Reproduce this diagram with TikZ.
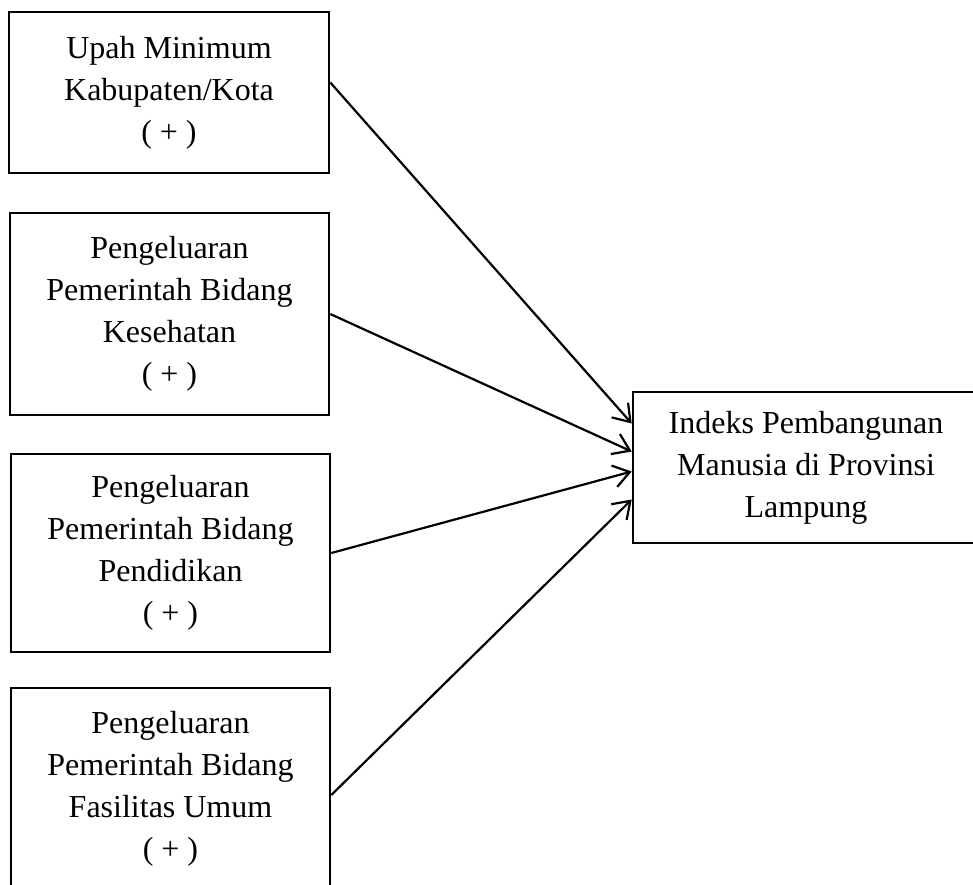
\documentclass[tikz,border=0pt]{standalone}
\usepackage{fontspec}
\setmainfont{Liberation Serif}
\usetikzlibrary{arrows.meta}

\begin{document}
\begin{tikzpicture}[x=0.5pt,y=-0.5pt,
  box/.style={draw,line width=1.3pt,align=center,inner sep=0pt,font=\fontsize{16}{21}\selectfont},
  link/.style={line width=1.1pt,-{Straight Barb[length=8pt,width=11pt,line width=1.1pt]}}]

  \useasboundingbox (0,0) rectangle (973,884);
  \node[box,minimum width=160pt,minimum height=80.5pt] (ump) at (169,92.5) {Upah Minimum\\Kabupaten/Kota\\( + )};
  \node[box,minimum width=159.5pt,minimum height=101pt] (kes) at (169.5,314) {Pengeluaran\\Pemerintah Bidang\\Kesehatan\\( + )};
  \node[box,minimum width=159.5pt,minimum height=99pt] (pend) at (170.5,553) {Pengeluaran\\Pemerintah Bidang\\Pendidikan\\( + )};
  \node[box,minimum width=159.5pt,minimum height=101pt] (fas) at (170.5,789) {Pengeluaran\\Pemerintah Bidang\\Fasilitas Umum\\( + )};
  \node[box,minimum width=173pt,minimum height=75.5pt] (ipm) at (806,467.5) {Indeks Pembangunan\\Manusia di Provinsi\\Lampung};

  \draw[link] ([yshift=5pt]ump.east) -- ([yshift=22pt]ipm.west);
  \draw[link] (kes.east) -- ([yshift=8pt]ipm.west);
  \draw[link] (pend.east) -- ([yshift=-2pt]ipm.west);
  \draw[link] ([yshift=-3pt]fas.east) -- ([yshift=-16pt]ipm.west);

\end{tikzpicture}
\end{document}
